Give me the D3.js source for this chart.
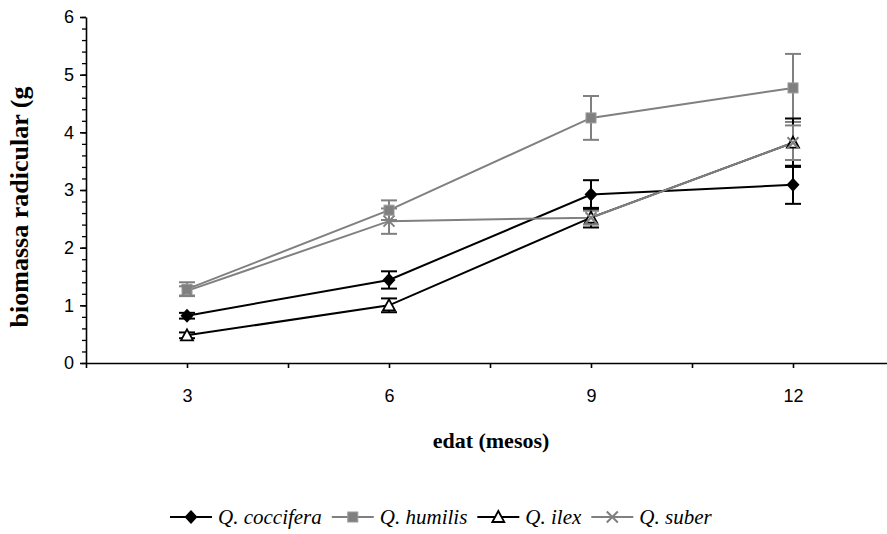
<!DOCTYPE html>
<html>
<head>
<meta charset="utf-8">
<script src="https://cdn.jsdelivr.net/npm/d3@7"></script>
<style>
  body { margin: 0; background: #fff; }
  svg { display: block; }
</style>
</head>
<body>
<div id="chart"></div>
<script>
// Data
// ==================================================================
const months = [3, 6, 9, 12];
const species = ["Q. coccifera", "Q. humilis", "Q. ilex", "Q. suber"];
const coccifera = [0.82, 1.44, 2.92, 3.09];
const cocciferaErr = [0.05, 0.15, 0.25, 0.33];
const humilis = [1.28, 2.65, 4.25, 4.77];
const humilisErr = [0.12, 0.17, 0.38, 0.59];
const ilex = [0.48, 1.00, 2.52, 3.82];
const ilexErr = [0.05, 0.12, 0.17, 0.42];
const suber = [1.25, 2.46, 2.52, 3.82];
const suberErr = [0.08, 0.22, 0.12, 0.30];
const yTicks = [0, 1, 2, 3, 4, 5, 6];

const series = [
    {name: species[0], values: coccifera, err: cocciferaErr, color: "#000", marker: "diamond"},
    {name: species[1], values: humilis, err: humilisErr, color: "#808080", marker: "square"},
    {name: species[2], values: ilex, err: ilexErr, color: "#000", marker: "triangle"},
    {name: species[3], values: suber, err: suberErr, color: "#808080", marker: "cross"}
];

const W = 887, H = 534;

// Scales
// ==================================================================
const xScale = d3.scaleLinear().domain([1.5, 13.5]).range([86, 894]);
const yScale = d3.scaleLinear().domain([0, 6]).range([363, 17]);

const svg = d3.select("#chart").append("svg")
    .attr("width", W)
    .attr("height", H);

// Axes
// ==================================================================
const yMinor = d3.range(0, 6.001, 0.2);
svg.append("g")
    .attr("transform", "translate(86,0)")
    .call(d3.axisLeft(yScale).tickValues(yMinor).tickSize(4).tickFormat(""))
    .call(g => g.select(".domain").remove())
    .selectAll("line").attr("stroke", "#000").attr("stroke-width", 1.3);

const yAxis = svg.append("g")
    .attr("transform", "translate(86,0)")
    .call(d3.axisLeft(yScale).tickValues(yTicks).tickSize(6).tickSizeOuter(0).tickPadding(6).tickFormat(d3.format("d")));
yAxis.select(".domain").attr("stroke-width", 1.6);
yAxis.selectAll("line").attr("stroke-width", 1.6);
yAxis.selectAll("text")
    .attr("font-family", "Liberation Sans, Arial, sans-serif")
    .attr("font-size", "18px")
    .attr("fill", "#000");

const xAxis = svg.append("g")
    .attr("transform", "translate(0,363)")
    .call(d3.axisBottom(xScale).tickValues(d3.range(1.5, 13.6, 1.5)).tickSize(5).tickSizeOuter(0).tickPadding(21)
        .tickFormat(d => months.includes(d) ? d : ""));
xAxis.select(".domain").attr("stroke-width", 1.6);
xAxis.selectAll("line").attr("stroke-width", 1.6);
xAxis.selectAll("text")
    .attr("font-family", "Liberation Sans, Arial, sans-serif")
    .attr("font-size", "18px")
    .attr("fill", "#000");

svg.append("text")
    .attr("transform", "translate(28,207) rotate(-90)")
    .attr("text-anchor", "middle")
    .attr("font-family", "Liberation Serif, Times New Roman, serif")
    .attr("font-weight", "bold")
    .attr("font-size", "26px")
    .text("biomassa radicular (g");

svg.append("text")
    .attr("x", 491)
    .attr("y", 448)
    .attr("text-anchor", "middle")
    .attr("font-family", "Liberation Serif, Times New Roman, serif")
    .attr("font-weight", "bold")
    .attr("font-size", "22px")
    .text("edat (mesos)");

// Markers
// ==================================================================
function drawMarker(g, type, color) {
    if (type === "diamond") {
        g.append("path").attr("d", "M0,-7L6.5,0L0,7L-6.5,0Z").attr("fill", color);
    } else if (type === "square") {
        g.append("rect").attr("x", -5).attr("y", -5).attr("width", 10).attr("height", 10)
            .attr("fill", color).attr("stroke", "#999").attr("stroke-width", 1);
    } else if (type === "triangle") {
        g.append("path").attr("d", "M0,-6L6,5L-6,5Z")
            .attr("fill", "#fff").attr("stroke", color).attr("stroke-width", 1.8);
    } else if (type === "cross") {
        g.append("path").attr("d", "M-5.5,-5.5L5.5,5.5M-5.5,5.5L5.5,-5.5")
            .attr("stroke", color).attr("stroke-width", 2).attr("fill", "none");
    }
}

const line = d3.line()
    .x((d, i) => xScale(months[i]))
    .y(d => yScale(d));

// Plot
// ==================================================================
series.forEach(s => {
    svg.append("path")
        .datum(s.values)
        .attr("fill", "none")
        .attr("stroke", s.color)
        .attr("stroke-width", 2)
        .attr("d", line);
});

series.forEach(s => {
    const eb = svg.append("g");
    s.values.forEach((v, i) => {
        const x = xScale(months[i]);
        const y0 = yScale(v - s.err[i]), y1 = yScale(v + s.err[i]);
        eb.append("line").attr("x1", x).attr("x2", x).attr("y1", y0).attr("y2", y1)
            .attr("stroke", s.color).attr("stroke-width", 2);
        [y0, y1].forEach(y => {
            eb.append("line").attr("x1", x - 8).attr("x2", x + 8).attr("y1", y).attr("y2", y)
                .attr("stroke", s.color).attr("stroke-width", 2);
        });
    });
});

series.forEach(s => {
    s.values.forEach((v, i) => {
        const g = svg.append("g")
            .attr("transform", "translate(" + xScale(months[i]) + "," + yScale(v) + ")");
        drawMarker(g, s.marker, s.color);
    });
});

// Legend
// ==================================================================
let lx = 170;
const ly = 517;
series.forEach(s => {
    svg.append("line").attr("x1", lx).attr("x2", lx + 42).attr("y1", ly).attr("y2", ly)
        .attr("stroke", s.color).attr("stroke-width", 2);
    const g = svg.append("g").attr("transform", "translate(" + (lx + 21) + "," + ly + ")");
    drawMarker(g, s.marker, s.color);
    const t = svg.append("text")
        .attr("x", lx + 48)
        .attr("y", ly + 7)
        .attr("font-family", "Liberation Serif, Times New Roman, serif")
        .attr("font-style", "italic")
        .attr("font-size", "21px")
        .text(s.name);
    lx += 48 + t.node().getComputedTextLength() + 10;
});
</script>
</body>
</html>
